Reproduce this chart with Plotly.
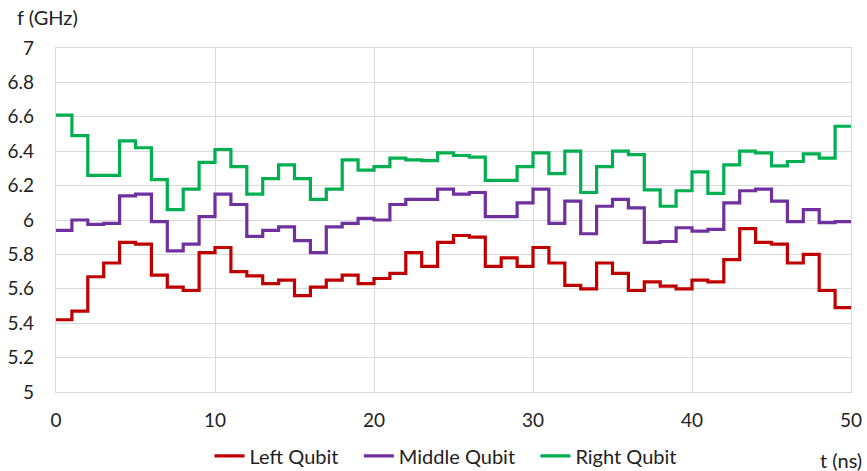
import plotly.graph_objects as go

# Time grid (ns): one step per nanosecond
t_ns = list(range(0, 51))

# Qubit frequencies (GHz) for each 1 ns step
left_qubit = [5.42, 5.47, 5.67, 5.75, 5.87, 5.86, 5.68, 5.61, 5.59, 5.81,
              5.84, 5.70, 5.675, 5.63, 5.65, 5.56, 5.61, 5.65, 5.68, 5.63,
              5.66, 5.69, 5.81, 5.73, 5.87, 5.91, 5.90, 5.73, 5.78, 5.73,
              5.84, 5.75, 5.62, 5.60, 5.75, 5.69, 5.59, 5.64, 5.615, 5.60,
              5.65, 5.64, 5.77, 5.95, 5.87, 5.86, 5.75, 5.80, 5.59, 5.49]
middle_qubit = [5.94, 6.00, 5.975, 5.98, 6.14, 6.15, 5.99, 5.82, 5.86, 6.02,
                6.15, 6.09, 5.905, 5.94, 5.96, 5.88, 5.81, 5.96, 5.98, 6.01,
                6.00, 6.09, 6.12, 6.12, 6.18, 6.15, 6.16, 6.02, 6.02, 6.10,
                6.18, 5.98, 6.11, 5.92, 6.08, 6.12, 6.07, 5.87, 5.875, 5.955,
                5.935, 5.945, 6.10, 6.17, 6.18, 6.11, 5.99, 6.06, 5.985, 5.99]
right_qubit = [6.61, 6.49, 6.26, 6.26, 6.46, 6.42, 6.235, 6.06, 6.18, 6.335,
               6.41, 6.31, 6.15, 6.24, 6.32, 6.24, 6.12, 6.18, 6.35, 6.29,
               6.31, 6.36, 6.35, 6.345, 6.39, 6.375, 6.365, 6.23, 6.23, 6.31,
               6.39, 6.27, 6.40, 6.16, 6.31, 6.40, 6.38, 6.175, 6.08, 6.17,
               6.28, 6.155, 6.32, 6.40, 6.39, 6.315, 6.34, 6.385, 6.36, 6.545]

series = [
    ("Left Qubit", left_qubit, "#C00000"),
    ("Middle Qubit", middle_qubit, "#7030A0"),
    ("Right Qubit", right_qubit, "#00B050"),
]

FONT = "Lato, 'Open Sans', sans-serif"
GRID = "#d9d9d9"
PAD = "\u00a0\u00a0\u00a0"  # extra room between legend entries

fig = go.Figure()
for name, vals, color in series:
    # hold the last value to the end of the final step
    fig.add_trace(go.Scatter(
        x=t_ns, y=vals + [vals[-1]], name=name + PAD, mode="lines",
        line=dict(color=color, width=3.2, shape="hv"),
    ))

fig.update_layout(
    width=867, height=471,
    margin=dict(l=56, r=16, t=48, b=79, autoexpand=False),
    paper_bgcolor="white", plot_bgcolor="white",
    font=dict(family=FONT, size=19, color="#222222"),
    showlegend=True,
    legend=dict(orientation="h", x=0.5, xanchor="center",
                yref="container", y=0.032, yanchor="middle",
                font=dict(size=20), tracegroupgap=0),
    xaxis=dict(range=[0, 50], dtick=10, tick0=0, showgrid=True,
               gridcolor=GRID, gridwidth=1.3, zeroline=False,
               showline=True, linecolor=GRID, linewidth=1.3,
               ticks="", ticklabelstandoff=11, mirror=True),
    yaxis=dict(range=[5, 7], dtick=0.2, tick0=5, showgrid=True,
               gridcolor=GRID, gridwidth=1.3, zeroline=False,
               showline=True, linecolor=GRID, linewidth=1.3,
               ticks="", ticklabelstandoff=17, mirror=True),
    annotations=[
        dict(text="f (GHz)", xref="paper", yref="paper", x=-0.052, y=1.09,
             xanchor="left", yanchor="middle", showarrow=False,
             font=dict(size=20)),
        dict(text="t (ns)", xref="paper", yref="paper", x=1.016, y=-0.197,
             xanchor="right", yanchor="middle", showarrow=False,
             font=dict(size=20)),
    ],
)

fig.write_html("out.html")
